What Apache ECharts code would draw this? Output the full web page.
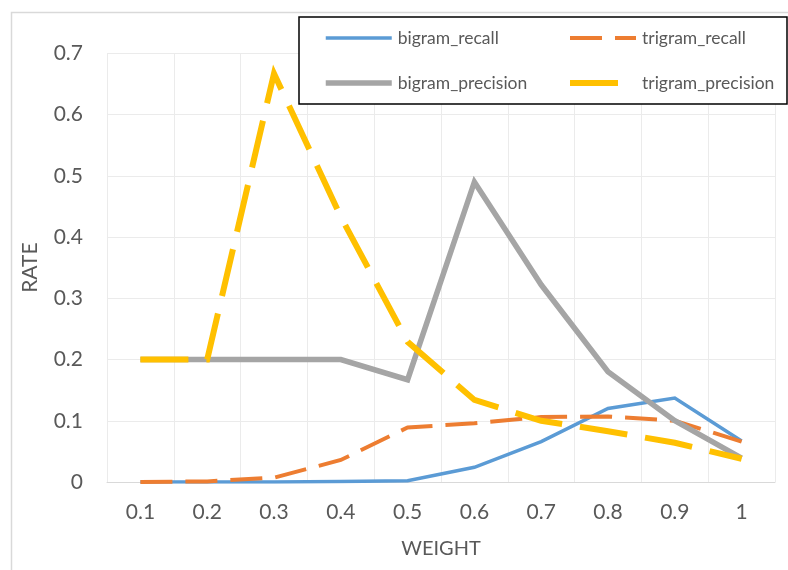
<!DOCTYPE html>
<html>
<head>
<meta charset="utf-8">
<script src="https://cdn.jsdelivr.net/npm/echarts@6/dist/echarts.min.js"></script>
<style>
  html, body { margin: 0; padding: 0; background: #fff; }
  #chart { width: 788px; height: 570px; }
</style>
</head>
<body>
<div id="chart"></div>
<script>
// Weight values on the x axis
const weights = ['0.1', '0.2', '0.3', '0.4', '0.5', '0.6', '0.7', '0.8', '0.9', '1'];

// Rates per weight
const bigramRecall     = [0, 0, 0, 0.001, 0.002, 0.024, 0.066, 0.12, 0.137, 0.067];
const trigramRecall    = [0, 0.001, 0.007, 0.036, 0.089, 0.096, 0.106, 0.107, 0.1, 0.066];
const bigramPrecision  = [0.2, 0.2, 0.2, 0.2, 0.167, 0.49, 0.322, 0.18, 0.1, 0.039];
const trigramPrecision = [0.2, 0.2, 0.667, 0.433, 0.229, 0.134, 0.1, 0.083, 0.064, 0.038];

const FONT = 'Lato';
const TEXT = '#595959';

// Per-series stroke settings, shared by the plotted lines and the legend keys
const STYLES = {
  bigram_recall:     { color: '#5B9BD5', width: 3.5, dash: 'solid' },
  trigram_recall:    { color: '#ED7D31', width: 4,   dash: [32, 13] },
  bigram_precision:  { color: '#A5A5A5', width: 5.5, dash: 'solid' },
  trigram_precision: { color: '#FFC000', width: 6,   dash: [48, 18] }
};

const chart = echarts.init(document.getElementById('chart'), null, { renderer: 'canvas' });

function lineSeries(name, data, z) {
  const s = STYLES[name];
  return {
    name: name,
    type: 'line',
    data: data,
    symbol: 'none',
    showSymbol: false,
    z: z,
    lineStyle: { color: s.color, width: s.width, type: s.dash, cap: 'butt', join: 'miter' },
    itemStyle: { color: s.color },
    emphasis: { disabled: true },
    animation: false
  };
}

function legendItem(name) {
  const s = STYLES[name];
  return {
    name: name,
    itemStyle: { opacity: 0 },
    lineStyle: { color: s.color, width: s.width, type: s.dash, cap: 'butt' }
  };
}

const legendCommon = {
  orient: 'vertical',
  padding: 0,
  itemWidth: 66,
  itemHeight: 8,
  itemGap: 27,
  selectedMode: false,
  itemStyle: { opacity: 0 },
  textStyle: { fontFamily: FONT, fontSize: 17.5, color: TEXT, padding: [0, 0, 0, 1] },
  z: 10
};

chart.setOption({
  animation: false,
  backgroundColor: '#ffffff',
  graphic: [
    {
      type: 'rect',
      shape: { x: 11.5, y: 12.5, width: 800, height: 600 },
      style: { fill: null, stroke: '#D9D9D9', lineWidth: 1.5 },
      z: 0
    },
    {
      type: 'rect',
      shape: { x: 299, y: 17, width: 488, height: 87 },
      style: { fill: '#ffffff', stroke: '#000000', lineWidth: 1.5 },
      z: 8
    }
  ],
  legend: [
    Object.assign({}, legendCommon, {
      left: 323, top: 29,
      data: [legendItem('bigram_recall'), legendItem('bigram_precision')]
    }),
    Object.assign({}, legendCommon, {
      left: 567, top: 29,
      data: [legendItem('trigram_recall'), legendItem('trigram_precision')]
    })
  ],
  grid: { left: 107, right: 13, top: 53.3, bottom: 88, containLabel: false },
  xAxis: {
    type: 'category',
    data: weights,
    boundaryGap: true,
    name: 'WEIGHT',
    nameLocation: 'middle',
    nameGap: 57,
    nameTextStyle: { fontFamily: FONT, fontSize: 20, color: TEXT },
    axisLine: { show: true, lineStyle: { color: '#D9D9D9', width: 1 } },
    axisTick: { show: false },
    axisLabel: { fontFamily: FONT, fontSize: 21, color: TEXT, margin: 20 },
    splitLine: { show: true, lineStyle: { color: '#EBEBEB', width: 1 } }
  },
  yAxis: {
    type: 'value',
    min: 0,
    max: 0.7,
    interval: 0.1,
    name: 'RATE',
    nameLocation: 'middle',
    nameGap: 66,
    nameTextStyle: { fontFamily: FONT, fontSize: 21, color: TEXT },
    axisLine: { show: false },
    axisTick: { show: false },
    axisLabel: {
      fontFamily: FONT, fontSize: 21, color: TEXT, margin: 24,
      formatter: function (v) { return String(Math.round(v * 10) / 10); }
    },
    splitLine: { show: true, lineStyle: { color: '#EBEBEB', width: 1 } }
  },
  series: [
    lineSeries('bigram_recall', bigramRecall, 2),
    lineSeries('trigram_recall', trigramRecall, 3),
    lineSeries('bigram_precision', bigramPrecision, 4),
    lineSeries('trigram_precision', trigramPrecision, 5)
  ]
});
</script>
</body>
</html>
